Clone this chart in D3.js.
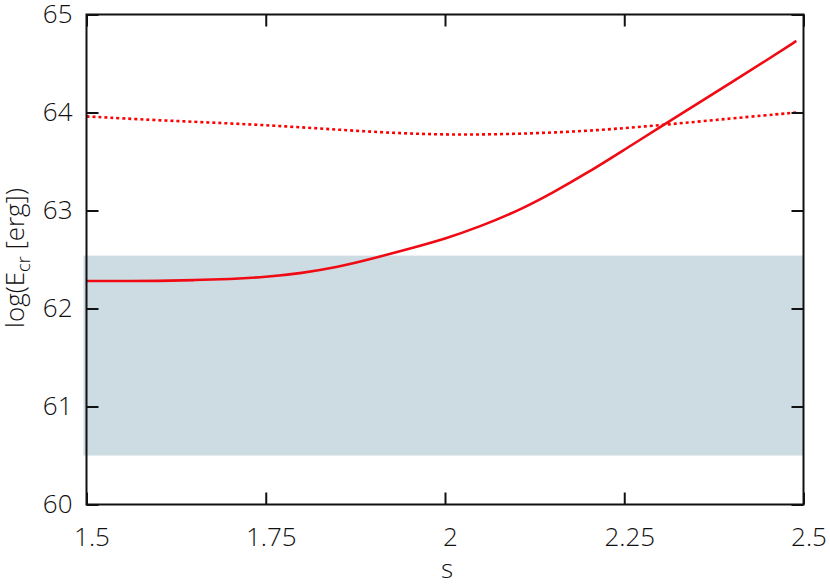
<!DOCTYPE html>
<html>
<head>
<meta charset="utf-8">
<script src="https://cdn.jsdelivr.net/npm/d3@7"></script>
<style>
  html, body { margin: 0; padding: 0; background: #fff; }
  text { font-family: "Open Sans", "Lato", sans-serif; font-weight: 300; fill: #111; }
</style>
</head>
<body>
<svg id="chart" width="830" height="586"></svg>
<script>
// Data
const sSolid    = [1.5, 1.55, 1.6, 1.65, 1.7, 1.75, 1.8, 1.85, 1.9, 1.95, 2.0, 2.05, 2.1, 2.15, 2.2, 2.25, 2.3, 2.35, 2.4, 2.45, 2.49];
const solidLogE = [62.28, 62.28, 62.28, 62.29, 62.30, 62.32, 62.36, 62.42, 62.51, 62.61, 62.71, 62.84, 62.99, 63.18, 63.39, 63.62, 63.85, 64.08, 64.31, 64.54, 64.73];
const sDotted    = [1.5, 1.6, 1.7, 1.8, 1.9, 2.0, 2.1, 2.2, 2.3, 2.4, 2.49];
const dottedLogE = [63.96, 63.92, 63.89, 63.85, 63.80, 63.77, 63.78, 63.81, 63.87, 63.94, 64.00];
const bandRange = [60.5, 62.54];
const xTicks = [1.5, 1.75, 2, 2.25, 2.5];
const xTickLabels = ["1.5", "1.75", "2", "2.25", "2.5"];
const yTicks = [60, 61, 62, 63, 64, 65];
const yTickLabels = ["60", "61", "62", "63", "64", "65"];

(function () {
const svg = d3.select("#chart");
const pL = 86.5, pR = 803.5, pT = 14.5, pB = 504.5;

const x = d3.scaleLinear().domain([1.5, 2.5]).range([pL, pR]);
const y = d3.scaleLinear().domain([60, 65]).range([pB, pT]);

// band
svg.append("rect")
  .attr("x", pL - 3)
  .attr("width", pR - pL + 3)
  .attr("y", y(bandRange[1]))
  .attr("height", y(bandRange[0]) - y(bandRange[1]))
  .attr("fill", "#cddce2");

const lineFor = xs => d3.line().x((d, i) => x(xs[i])).y(d => y(d)).curve(d3.curveBasis);

svg.append("path")
  .attr("d", lineFor(sDotted)(dottedLogE))
  .attr("fill", "none")
  .attr("stroke", "#ff0000")
  .attr("stroke-width", 2.6)
  .attr("stroke-dasharray", "3,3");

svg.append("path")
  .attr("d", lineFor(sSolid)(solidLogE))
  .attr("fill", "none")
  .attr("stroke", "#f00a14")
  .attr("stroke-width", 2.6);

// frame
svg.append("rect")
  .attr("x", pL).attr("y", pT)
  .attr("width", pR - pL).attr("height", pB - pT)
  .attr("fill", "none").attr("stroke", "#111").attr("stroke-width", 2);

const FONT = '"Open Sans", "Lato", sans-serif';

const xAxis = d3.axisBottom(x).tickValues(xTicks).tickSize(-12).tickPadding(18)
  .tickFormat((d, i) => xTickLabels[i]);
const gx = svg.append("g").attr("transform", `translate(0,${pB})`).call(xAxis);
gx.select(".domain").remove();
gx.selectAll(".tick line").attr("stroke", "#111").attr("stroke-width", 2);
gx.selectAll(".tick text").attr("font-size", 26).attr("dx", 5).attr("dy", "0.9em")
  .style("font-family", FONT).style("font-weight", 300).attr("fill", "#111");

const gx2 = svg.append("g").attr("transform", `translate(0,${pT})`)
  .call(d3.axisTop(x).tickValues(xTicks).tickSize(-12).tickFormat(""));
gx2.select(".domain").remove();
gx2.selectAll(".tick line").attr("stroke", "#111").attr("stroke-width", 2);

const yAxis = d3.axisLeft(y).tickValues(yTicks).tickSize(-12).tickPadding(14)
  .tickFormat((d, i) => yTickLabels[i]);
const gy = svg.append("g").attr("transform", `translate(${pL},0)`).call(yAxis);
gy.select(".domain").remove();
gy.selectAll(".tick line").attr("stroke", "#111").attr("stroke-width", 2);
gy.selectAll(".tick text").attr("font-size", 26)
  .style("font-family", FONT).style("font-weight", 300).attr("fill", "#111");

const gy2 = svg.append("g").attr("transform", `translate(${pR},0)`)
  .call(d3.axisRight(y).tickValues(yTicks).tickSize(-12).tickFormat(""));
gy2.select(".domain").remove();
gy2.selectAll(".tick line").attr("stroke", "#111").attr("stroke-width", 2);

// axis titles
svg.append("text")
  .attr("x", 447).attr("y", 578)
  .attr("text-anchor", "middle")
  .attr("font-size", 26)
  .text("s");

const yl = svg.append("text")
  .attr("transform", "translate(24,258) rotate(-90)")
  .attr("text-anchor", "middle")
  .attr("font-size", 26);
yl.append("tspan").text("log(E");
yl.append("tspan").attr("font-size", 18).attr("dy", 6).text("cr");
yl.append("tspan").attr("dy", -6).text(" [erg])");
})();
</script>
</body>
</html>
